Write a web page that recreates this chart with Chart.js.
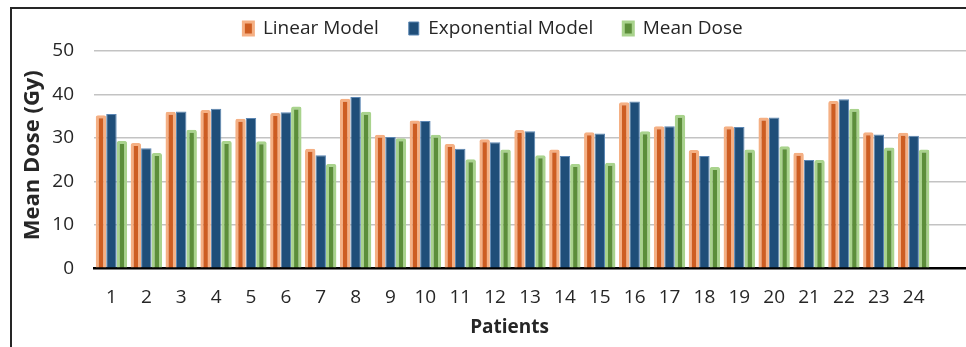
<!DOCTYPE html>
<html>
<head>
<meta charset="utf-8">
<script src="https://cdn.jsdelivr.net/npm/chart.js@4/dist/chart.umd.min.js"></script>
<style>
  html, body { margin: 0; padding: 0; background: #ffffff; overflow: hidden; }
  #wrap { position: relative; width: 966px; height: 347px; }
  #frame { position: absolute; left: 10px; top: 7px; width: 1000px; height: 400px;
           border-left: 2px solid #262626; border-top: 2px solid #262626; }
  canvas { position: absolute; left: 0; top: 0; }
</style>
</head>
<body>
<div id="wrap">
  <div id="frame"></div>
  <canvas id="chart" width="966" height="347"></canvas>
</div>
<script>
// Mean dose per patient (Gy) for the two models and the measured mean
const patients = [1, 2, 3, 4, 5, 6, 7, 8, 9, 10, 11, 12, 13, 14, 15, 16, 17, 18, 19, 20, 21, 22, 23, 24];
const linearModel = [35.2, 28.8, 36.0, 36.4, 34.4, 35.7, 27.5, 39.0, 30.7, 34.0, 28.6, 29.7,
                     31.8, 27.3, 31.3, 38.2, 32.7, 27.2, 32.7, 34.7, 26.6, 38.5, 31.3, 31.2];
const exponentialModel = [35.5, 27.6, 36.1, 36.7, 34.6, 35.9, 26.0, 39.4, 30.2, 33.9, 27.5, 29.0,
                          31.5, 25.8, 31.0, 38.4, 32.7, 25.8, 32.5, 34.7, 24.9, 38.9, 30.8, 30.5];
const meanDose = [29.3, 26.5, 31.9, 29.3, 29.2, 37.2, 24.0, 36.0, 29.9, 30.7, 25.1, 27.3,
                  26.0, 24.0, 24.3, 31.5, 35.3, 23.3, 27.3, 28.1, 24.9, 36.7, 27.8, 27.3];
const yTicks = [0, 10, 20, 30, 40, 50];

const FONT = "'Open Sans', 'Noto Sans', sans-serif";
const TEXT = '#262626';
const LEGEND_HEIGHT = 62;

const toPoints = vals => vals.map((v, i) => ({ x: patients[i], y: v }));

// Fixed legend box height so the plot starts a little below the legend row
const legendHeightPlugin = {
  id: 'legendHeight',
  beforeLayout(chart) {
    const lg = chart.legend;
    if (lg && !lg._fixedHeight) {
      const fit = lg.fit;
      lg.fit = function () { fit.call(this); this.height = LEGEND_HEIGHT; };
      lg._fixedHeight = true;
    }
  }
};

// Axis titles: "Patients" centred under the groups, "Mean Dose (Gy)" rotated on the left
const axisTitlePlugin = {
  id: 'axisTitles',
  afterDraw(chart) {
    const { ctx, scales } = chart;
    const x = scales.x.getPixelForValue((patients[0] + patients[patients.length - 1]) / 2);
    ctx.save();
    ctx.fillStyle = TEXT;
    ctx.textAlign = 'center';
    ctx.textBaseline = 'middle';
    ctx.font = `bold 19px ${FONT}`;
    ctx.fillText('Patients', x - 3, 328);
    ctx.font = `bold 22px ${FONT}`;
    ctx.translate(33, scales.y.getPixelForValue(26));
    ctx.rotate(-Math.PI / 2);
    ctx.fillText('Mean Dose (Gy)', 0, 0);
    ctx.restore();
  }
};

new Chart(document.getElementById('chart'), {
  type: 'bar',
  data: {
    datasets: [
      {
        label: 'Linear Model',
        data: toPoints(linearModel),
        backgroundColor: '#cd5d22',
        borderColor: '#f5b084',
        borderWidth: 3,
        borderSkipped: 'start',
        borderRadius: 2
      },
      {
        label: 'Exponential Model',
        data: toPoints(exponentialModel),
        backgroundColor: '#1f4e79',
        borderColor: '#5b86b3',
        borderWidth: 1,
        borderSkipped: 'start'
      },
      {
        label: 'Mean Dose',
        data: toPoints(meanDose),
        backgroundColor: '#5c8e3a',
        borderColor: '#a9d38d',
        borderWidth: 3,
        borderSkipped: 'start',
        borderRadius: 2
      }
    ]
  },
  options: {
    responsive: false,
    animation: false,
    layout: { padding: { left: 20, right: 0, top: -11, bottom: 20 } },
    datasets: { bar: { categoryPercentage: 0.9, barPercentage: 1.0 } },
    plugins: {
      tooltip: { enabled: false },
      legend: {
        position: 'top',
        labels: {
          font: { family: FONT, size: 19 },
          color: TEXT,
          boxWidth: 10,
          boxHeight: 13,
          padding: 30
        }
      }
    },
    scales: {
      x: {
        type: 'linear',
        offset: false,
        min: 0.5,
        max: 25.5,
        afterBuildTicks: s => { s.ticks = patients.map(p => ({ value: p })); },
        ticks: {
          font: { family: FONT, size: 19 },
          color: TEXT,
          padding: 18,
          autoSkip: false,
          maxRotation: 0,
          callback: v => String(v)
        },
        grid: { display: false, drawTicks: false },
        border: { display: true, color: '#000000', width: 2.5 }
      },
      y: {
        min: 0,
        max: 50,
        afterBuildTicks: s => { s.ticks = yTicks.map(v => ({ value: v })); },
        afterFit: s => { s.width = 74; },
        ticks: {
          font: { family: FONT, size: 19 },
          color: TEXT,
          padding: 20
        },
        grid: {
          color: ctx => (ctx.tick && ctx.tick.value === 0) ? 'rgba(0,0,0,0)' : '#c3c3c3',
          lineWidth: 1.5,
          drawTicks: false
        },
        border: { display: false }
      }
    }
  },
  plugins: [legendHeightPlugin, axisTitlePlugin]
});
</script>
</body>
</html>
